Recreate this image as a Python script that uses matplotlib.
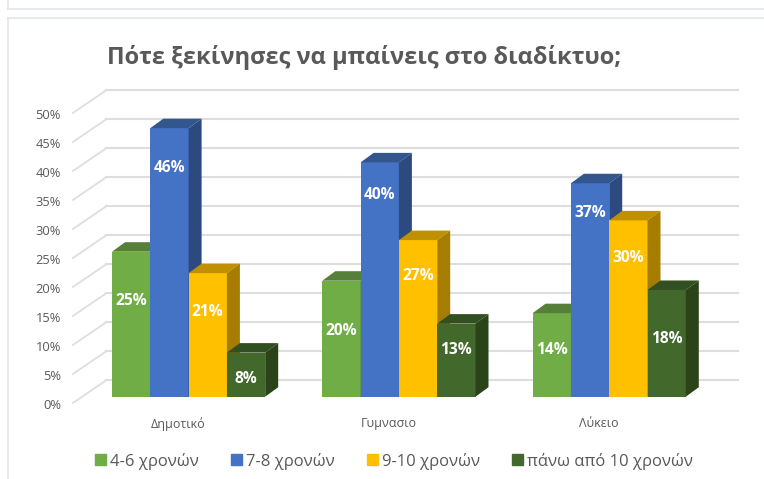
import matplotlib
matplotlib.use('Agg')
import matplotlib.pyplot as plt
from matplotlib.lines import Line2D
from matplotlib.patches import Patch

plt.rcParams['font.family'] = ['Open Sans', 'DejaVu Sans']

title = 'Πότε ξεκίνησες να μπαίνεις στο διαδίκτυο;'
categories = ['Δημοτικό', 'Γυμνασιο', 'Λύκειο']
series = ['4-6 χρονών', '7-8 χρονών', '9-10 χρονών', 'πάνω από 10 χρονών']
val_46 = [25.0, 20.0, 14.4]
val_78 = [46.3, 40.4, 36.8]
val_910 = [21.3, 27.0, 30.4]
val_10 = [7.6, 12.6, 18.4]
values = [val_46, val_78, val_910, val_10]
yticks = [0, 5, 10, 15, 20, 25, 30, 35, 40, 45, 50]

# height (in %) where each white label sits, they are not centred in the picture
lab_46 = [16.5, 11.3, 8.1]
lab_78 = [39.4, 34.7, 31.6]
lab_910 = [14.6, 20.8, 23.9]
lab_10 = [3.0, 8.1, 9.9]
label_y = [lab_46, lab_78, lab_910, lab_10]

front = ['#70AD47', '#4472C4', '#FFC000', '#43682B']
top = ['#56803A', '#34568F', '#BF9000', '#314F20']
side = ['#4F7A32', '#2C4A80', '#A67D00', '#2A4318']
grid_c = '#DEDEDE'
text_c = '#595959'

W, H = 764, 479
fig = plt.figure(figsize=(W / 100, H / 100), dpi=100)
ax = fig.add_axes([0, 0, 1, 1])
ax.axis('off')
# one group = 210.3 px, 1% = 5.8 px
ax.set_xlim((0 - 188.6) / 210.3, (W - 188.6) / 210.3)
ax.set_ylim((396.7 - H) / 5.8, 396.7 / 5.8)

bar_w = 38.3 / 210.3
dx = 13 / 210.3
dy = 9.5 / 5.8

# walls
for v in yticks:
    ax.plot([-0.55, -0.393], [v - 1.08, v + 2.8], color=grid_c, lw=1.3, zorder=1)
    ax.plot([-0.393, 2.612], [v + 2.8, v + 2.8], color=grid_c, lw=1.5, zorder=1)
    ax.text(-0.607, v - 1.5, '%d%%' % v, ha='right', va='center', fontsize=9.3, color=text_c)

# bars, left to right so the next one covers the side of the one before
z = 2
for g in range(len(categories)):
    for s in range(len(series)):
        x0 = g + (s - 2) * bar_w
        x1 = x0 + bar_w
        v = values[s][g]
        ax.bar(x0, v, bar_w, align='edge', color=front[s], zorder=z)
        ax.fill([x0, x0 + dx, x1 + dx, x1], [v, v + dy, v + dy, v], color=top[s], lw=0, zorder=z)
        ax.fill([x1, x1 + dx, x1 + dx, x1], [0, dy, v + dy, v], color=side[s], lw=0, zorder=z)
        z += 1

for g in range(len(categories)):
    for s in range(len(series)):
        xc = g + (s - 1.5) * bar_w
        ax.text(xc, label_y[s][g], '%.0f%%' % values[s][g], ha='center', va='center',
                fontsize=11.2, fontweight='bold', color='white', zorder=50)
    ax.text(g - 0.05, -4.7, categories[g], ha='center', va='center', fontsize=9, color=text_c)

fig.text(107 / W, 1 - 58 / H, title, ha='left', va='center', fontsize=17, fontweight='bold', color=text_c)

handles = [Patch(color=c) for c in front]
ax.legend(handles, series, loc='center', bbox_to_anchor=(394 / W, 1 - 461 / H), ncol=4, frameon=False,
          fontsize=12, labelcolor=text_c, handlelength=0.66, handleheight=0.66, handletextpad=0.25,
          columnspacing=1.9, borderpad=0)

# frame of the screenshot
frame_c = '#E3E6EA'
for xs, ys in [([7.5, 7.5], [0, 9]), ([7.5, W], [9, 9]), ([7.5, W], [17.5, 17.5]), ([7.5, 7.5], [17.5, H])]:
    fig.add_artist(Line2D([p / W for p in xs], [1 - p / H for p in ys], color=frame_c, lw=1.2))

fig.savefig('out.png', dpi=100)
